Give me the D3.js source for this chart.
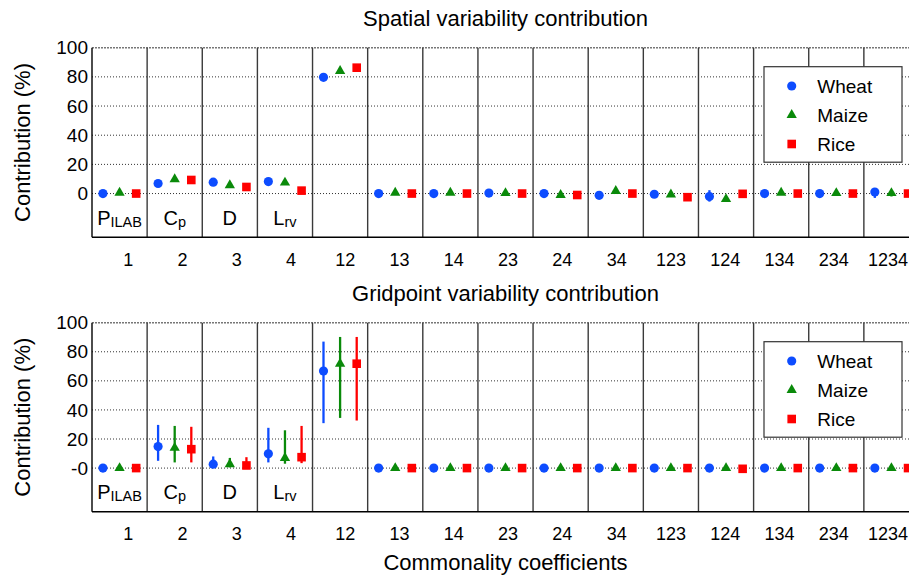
<!DOCTYPE html>
<html><head><meta charset="utf-8">
<script src="https://cdn.jsdelivr.net/npm/d3@7"></script>
<style>
body{margin:0;background:#fff;}
svg{display:block;}
text{font-family:"Liberation Sans",Arial,Helvetica,sans-serif;fill:#000;}
</style>
</head><body>
<svg id="chart" width="909" height="577"></svg>
<script>
// ---------------- data ----------------
const categories = ["1","2","3","4","12","13","14","23","24","34","123","124","134","234","1234"];
const seriesNames = ["Wheat","Maize","Rice"];
const yTickValues = [0,20,40,60,80,100];
const yTickLabelsTop = ["0","20","40","60","80","100"];
const yTickLabelsBottom = ["-0","20","40","60","80","100"];
const groupLabels = [
  {main:"P", sub:"ILAB"},
  {main:"C", sub:"p"},
  {main:"D", sub:""},
  {main:"L", sub:"rv"}
];

// Spatial variability contribution (top)
const spatialWheat   = [0, 6.9, 7.8, 8.2, 79.7, 0, 0, 0.3, 0, -1.2, -0.5, -2.1, 0, 0, 1.0];
const spatialWheatLo = [0, 6.9, 7.8, 8.2, 79.7, 0, 0, 0.3, 0, -1.2, -0.5, -5.5, 0, 0, -3.0];
const spatialWheatHi = [0, 6.9, 7.8, 8.2, 79.7, 0, 0, 0.3, 0, -1.2, -0.5, 2.3, 0, 0, 3.8];
const spatialMaize   = [0.5, 9.8, 5.7, 7.5, 84.0, 0.5, 0.5, 0.3, -1.0, 1.8, -0.7, -3.8, 0.5, 0.3, 0.3];
const spatialMaizeLo = [0.5, 9.8, 5.7, 7.5, 84.0, 0.5, 0.5, 0.3, -1.0, 1.8, -0.7, -3.8, 0.5, 0.3, -2.0];
const spatialMaizeHi = [0.5, 9.8, 5.7, 7.5, 84.0, 0.5, 0.5, 0.3, -1.0, 1.8, -0.7, -3.8, 0.5, 0.3, 1.0];
const spatialRice    = [0, 9.3, 4.5, 2.0, 86.3, 0, 0, 0, -1.0, 0, -2.5, -0.2, 0, 0, 0];
const spatialRiceLo  = [0, 9.3, 4.5, 2.0, 86.3, 0, 0, 0, -1.0, 0, -2.5, -0.2, 0, 0, 0];
const spatialRiceHi  = [0, 9.3, 4.5, 2.0, 86.3, 0, 0, 0, -1.0, 0, -2.5, -0.2, 0, 0, 0];

// Gridpoint variability contribution (bottom)
const gridWheat   = [0, 14.8, 2.7, 9.8, 66.8, 0, 0, 0, 0, 0, 0, 0, 0, 0, 0];
const gridWheatLo = [0, 5.0, 0.5, 3.9, 30.9, 0, 0, 0, 0, 0, 0, -1.5, 0, 0, 0];
const gridWheatHi = [0, 29.7, 8.0, 27.7, 87.0, 0, 0, 0, 0, 0, 0, 1.5, 0, 0, 0];
const gridMaize   = [0, 13.9, 2.7, 7.0, 71.8, 0, 0, 0, 0, 0, 0, 0, 0, 0, 0];
const gridMaizeLo = [0, 3.9, 0.5, 3.0, 34.5, 0, 0, 0, 0, 0, 0, 0, 0, 0, 0];
const gridMaizeHi = [0, 29.0, 7.0, 26.0, 90.2, 0, 0, 0, 0, 0, 0, 0, 0, 0, 0];
const gridRice    = [0, 13.0, 1.8, 7.5, 71.8, 0, 0, 0, 0, 0, 0, -0.5, 0, 0, 0];
const gridRiceLo  = [0, 3.9, 0.0, 3.4, 32.7, 0, 0, 0, 0, 0, 0, -0.5, 0, 0, 0];
const gridRiceHi  = [0, 28.4, 7.5, 29.0, 90.2, 0, 0, 0, 0, 0, 0, 1.5, 0, 0, 0];

// ---------------- style ----------------
const colors = {Wheat:"#0d4cff", Maize:"#0a8a0a", Rice:"#ff0000"};
const symbols = {Wheat:d3.symbolCircle, Maize:d3.symbolTriangle, Rice:d3.symbolSquare};
const symSizes = {Wheat:66, Maize:46, Rice:74};

const svg = d3.select("#chart");
const plotLeft = 92, plotRight = 919;

const x = d3.scaleBand().domain(categories).range([plotLeft, plotRight]).padding(0);
const xs = d3.scalePoint().domain(seriesNames).range([0, x.bandwidth()]).padding(0.66);
const xl = d3.scalePoint().domain(categories).range([127.7, 887.5]);

function drawPanel(cfg) {
  const g = svg.append("g");
  const y = d3.scaleLinear().domain([-30, 100]).range([cfg.bottom, cfg.top]);

  // title
  g.append("text").attr("x", (plotLeft + plotRight) / 2).attr("y", cfg.top - 22)
    .attr("text-anchor", "middle").style("font-size", "22px").text(cfg.title);

  // grid lines
  g.selectAll("line.grid").data(yTickValues).join("line").attr("class", "grid")
    .attr("x1", plotLeft).attr("x2", plotRight)
    .attr("y1", d => y(d)).attr("y2", d => y(d))
    .attr("stroke", d => d === 100 ? "#777" : "#333")
    .attr("stroke-width", d => d === 100 ? 1.5 : 1)
    .attr("stroke-dasharray", d => d === 100 ? "2,1" : "1,2");

  // vertical separators
  g.selectAll("line.sep").data(categories).join("line").attr("class", "sep")
    .attr("x1", d => x(d) + x.bandwidth()).attr("x2", d => x(d) + x.bandwidth())
    .attr("y1", cfg.top).attr("y2", cfg.bottom)
    .attr("stroke", "#3a3a3a").attr("stroke-width", 1.4);

  // frame left + bottom
  g.append("line").attr("x1", plotLeft).attr("x2", plotLeft).attr("y1", cfg.top).attr("y2", cfg.bottom)
    .attr("stroke", "#000").attr("stroke-width", 1.4);
  g.append("line").attr("x1", plotLeft).attr("x2", plotRight).attr("y1", cfg.bottom).attr("y2", cfg.bottom)
    .attr("stroke", "#000").attr("stroke-width", 1.4);

  // y axis
  const ya = g.append("g").attr("transform", `translate(${plotLeft},0)`)
    .call(d3.axisLeft(y).tickValues(yTickValues).tickSize(0).tickPadding(4)
      .tickFormat((d, i) => cfg.yLabels[i]));
  ya.select(".domain").remove();
  ya.selectAll("text").style("font-size", "19px").style("font-family", "Liberation Sans, Arial, sans-serif");

  // x axis labels
  const xa = g.append("g").attr("transform", `translate(0,${cfg.bottom})`)
    .call(d3.axisBottom(xl).tickSize(0).tickPadding(15.5));
  xa.select(".domain").remove();
  xa.selectAll("text").style("font-size", "18px").style("font-family", "Liberation Sans, Arial, sans-serif");

  // y axis label
  g.append("text").attr("transform", `translate(30,${(cfg.top + cfg.bottom) / 2}) rotate(-90)`)
    .attr("text-anchor", "middle").style("font-size", "22px").text("Contribution (%)");

  // group labels inside plot
  const gl = g.selectAll("text.glab").data(groupLabels).join("text").attr("class", "glab")
    .attr("x", (d, i) => x(categories[i]) + x.bandwidth() / 2)
    .attr("y", y(0) + 31)
    .attr("text-anchor", "middle").style("font-size", "20px");
  gl.append("tspan").text(d => d.main);
  gl.append("tspan").attr("dy", 2).style("font-size", "14.5px").text(d => d.sub);

  // series
  cfg.series.forEach(s => {
    const data = categories.map((c, i) => ({c, v: s.v[i], lo: s.lo[i], hi: s.hi[i]}));
    const sg = g.append("g");
    sg.selectAll("line.err").data(data.filter(d => d.hi - d.lo > 0.01)).join("line").attr("class", "err")
      .attr("x1", d => x(d.c) + xs(s.name)).attr("x2", d => x(d.c) + xs(s.name))
      .attr("y1", d => y(d.lo)).attr("y2", d => y(d.hi))
      .attr("stroke", colors[s.name]).attr("stroke-width", 2.3);
    sg.selectAll("path.pt").data(data).join("path").attr("class", "pt")
      .attr("transform", d => `translate(${x(d.c) + xs(s.name)},${y(d.v)})`)
      .attr("d", d3.symbol().type(symbols[s.name]).size(symSizes[s.name]))
      .attr("fill", colors[s.name]);
  });

  // legend
  const lx = 764, ly = cfg.top + 19, lw = 138, lh = 95.5;
  const lg = g.append("g");
  lg.append("rect").attr("x", lx).attr("y", ly).attr("width", lw).attr("height", lh)
    .attr("fill", "#fff").attr("stroke", "#333").attr("stroke-width", 1.2);
  const rows = lg.selectAll("g.row").data(seriesNames).join("g").attr("class", "row")
    .attr("transform", (d, i) => `translate(${lx + 27.7},${ly + 19.3 + i * 29})`);
  rows.append("path").attr("d", d => d3.symbol().type(symbols[d]).size(symSizes[d])())
    .attr("fill", d => colors[d]);
  rows.append("text").attr("x", 25.6).attr("dy", "0.36em").style("font-size", "19px").text(d => d);
}

drawPanel({
  title: "Spatial variability contribution", top: 47.7, bottom: 237.3, yLabels: yTickLabelsTop,
  series: [
    {name:"Wheat", v:spatialWheat, lo:spatialWheatLo, hi:spatialWheatHi},
    {name:"Maize", v:spatialMaize, lo:spatialMaizeLo, hi:spatialMaizeHi},
    {name:"Rice",  v:spatialRice,  lo:spatialRiceLo,  hi:spatialRiceHi}
  ]
});
drawPanel({
  title: "Gridpoint variability contribution", top: 322.7, bottom: 511.7, yLabels: yTickLabelsBottom,
  series: [
    {name:"Wheat", v:gridWheat, lo:gridWheatLo, hi:gridWheatHi},
    {name:"Maize", v:gridMaize, lo:gridMaizeLo, hi:gridMaizeHi},
    {name:"Rice",  v:gridRice,  lo:gridRiceLo,  hi:gridRiceHi}
  ]
});

svg.append("text").attr("x", (plotLeft + plotRight) / 2).attr("y", 570)
  .attr("text-anchor", "middle").style("font-size", "22px").text("Commonality coefficients");
</script>
</body></html>
